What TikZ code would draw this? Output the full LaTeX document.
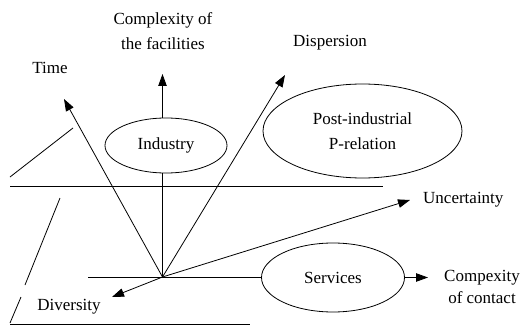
\documentclass[tikz,border=0pt]{standalone}
\usepackage{fontspec}
\setmainfont{Liberation Serif}
\usetikzlibrary{arrows.meta,shapes.geometric}
\begin{document}
\begin{tikzpicture}[x=1pt,y=-1pt,
  ln/.style={line width=0.8pt},
  arr/.style={line width=0.8pt,-{Triangle[length=12pt,width=8.5pt]}},
  ell/.style={ellipse,draw,line width=0.8pt,inner sep=0pt},
  lbl/.style={font=\fontsize{17}{22}\selectfont,align=center,inner sep=0pt}]
\useasboundingbox (0,0) rectangle (522,326);
% origin
\coordinate (O) at (162.5,277);
% ellipses
\node[ell,minimum width=122pt,minimum height=55pt,lbl] (ind) at (166,145.5) {Industry};
\node[ell,minimum width=199pt,minimum height=94pt,lbl,font=\fontsize{17}{25}\selectfont] (post) at (362.5,131) {Post-industrial\\P-relation};
\node[ell,minimum width=143pt,minimum height=69pt,lbl] (serv) at (333,277.5) {Services};
% labels
\node[lbl] (time) at (50,68) {Time};
\node[lbl,font=\fontsize{17}{25}\selectfont] (cf) at (163,31) {Complexity of\\the facilities};
\node[lbl] (disp) at (330,43) {Dispersion};
\node[lbl,anchor=west] (unc) at (423,200) {Uncertainty};
\node[lbl] (cc) at (482,287) {Compexity\\of contact};
\node[lbl] (div) at (69,307) {Diversity};
% arrow tips
\coordinate (tT) at (64,99);
\coordinate (tC) at (162.5,74);
\coordinate (tD) at (285,75);
\coordinate (tU) at (410,200);
\coordinate (tV) at (112,297);
\coordinate (tS) at (428,277.5);
% frame lines
\coordinate (h1a) at (10,186);
\coordinate (h1b) at (383,186);
\coordinate (h2a) at (88,277.5);
\coordinate (h3a) at (10,324);
\coordinate (h3b) at (250,324);
\coordinate (s1a) at (10,177);
\coordinate (s1b) at (73,128);
\coordinate (s2a) at (10,323);
\coordinate (s2b) at (21,297);
\coordinate (s3a) at (25,285);
\coordinate (s3b) at (60,198);
\draw[ln] (h1a) -- (h1b);
\draw[ln] (h2a) -- (serv.west);
\draw[ln] (h3a) -- (h3b);
\draw[ln] (s1a) -- (s1b);
\draw[ln] (s2a) -- (s2b);
\draw[ln] (s3a) -- (s3b);
% arrows
\draw[arr] (O) -- (tT);
\draw[ln] (O) -- (O |- ind.south);
\draw[arr] (O |- ind.north) -- (tC);
\draw[arr] (O) -- (tD);
\draw[arr] (O) -- (tU);
\draw[arr] (O) -- (tV);
\draw[arr] (serv.east) -- (tS);
\end{tikzpicture}
\end{document}
